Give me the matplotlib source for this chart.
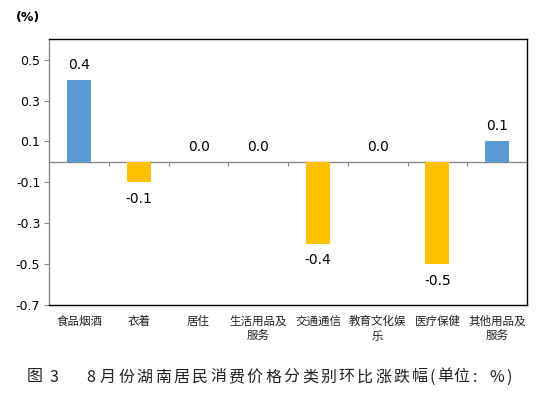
import matplotlib
matplotlib.use("Agg")
import matplotlib.pyplot as plt
import numpy as np

plt.rcParams['font.family'] = ['DejaVu Sans']
plt.rcParams['axes.unicode_minus'] = False

categories = ["食品烟酒", "衣着", "居住", "生活用品及\n服务", "交通通信", "教育文化娱\n乐", "医疗保健", "其他用品及\n服务"]
values = [0.4, -0.1, 0.0, 0.0, -0.4, 0.0, -0.5, 0.1]
yticks = [0.5, 0.3, 0.1, -0.1, -0.3, -0.5, -0.7]
ylim = (-0.7, 0.6)
caption_head = ["图", "3", "8"]
caption_body = "月份湖南居民消费价格分类别环比涨跌幅"
caption_tail = ["(", "单", "位", ":", "%", ")"]

BLUE = "#5B9BD5"
YELLOW = "#FFC000"
GRAY = "#898989"
CJK = ['Noto Sans CJK SC', 'DejaVu Sans']

W, H = 550, 396
fig = plt.figure(figsize=(5.5, 3.96), dpi=100)
ax = fig.add_axes([49.3/W, 1-305/H, (527-49.3)/W, (305-39.3)/H])

x = np.arange(len(categories))
colors = [BLUE if v >= 0 else YELLOW for v in values]
ax.bar(x, values, width=0.4, color=colors, zorder=2)

ax.set_xlim(-0.5, len(categories) - 0.5)
ax.set_ylim(*ylim)
ax.set_yticks(yticks)
ax.set_yticklabels([f"{t:.1f}" for t in yticks], fontsize=9)
ax.tick_params(axis='y', direction='out', length=3.5, width=0.8, color=GRAY, pad=3)

ax.set_xticks(x)
ax.set_xticklabels(categories, fontsize=8.3, family=CJK, linespacing=1.25, color="#222222")
ax.tick_params(axis='x', length=0, pad=7)

for side in ['top', 'right', 'bottom']:
    ax.spines[side].set_color('black')
    ax.spines[side].set_linewidth(1.0)
ax.spines['left'].set_color(GRAY)
ax.spines['left'].set_linewidth(1.0)

# zero axis with category separator ticks
sec = ax.secondary_xaxis(0, transform=ax.transData)
sec.set_xticks(np.arange(len(categories) - 1) + 0.5)
sec.set_xticklabels([])
sec.tick_params(axis='x', direction='out', length=3, width=0.8, color=GRAY)
sec.spines['bottom'].set_color(GRAY)
sec.spines['bottom'].set_linewidth(1.0)

for xi, v in zip(x, values):
    if v >= 0:
        ax.annotate(f"{v:.1f}", (xi, v), xytext=(0, 6), textcoords='offset points',
                    ha='center', va='bottom', fontsize=10)
    else:
        ax.annotate(f"{v:.1f}", (xi, v), xytext=(0, -7), textcoords='offset points',
                    ha='center', va='top', fontsize=10)

fig.text(28/W, 1-17/H, "(%)", ha='center', va='center', fontsize=9, fontweight='bold')

# caption, letter-spaced like the reference
cap_y = 1 - 377/H
cap_kw = dict(ha='center', va='center', fontsize=11.5, family=CJK, color="#222222")
for ch, cx in zip(caption_head, [34.5, 53.5, 91]):
    fig.text(cx/W, cap_y, ch, **cap_kw)
for ch, cx in zip(caption_body, np.linspace(108, 420, len(caption_body))):
    fig.text(cx/W, cap_y, ch, **cap_kw)
for ch, cx in zip(caption_tail, [432.5, 445, 461.5, 475, 497, 509.5]):
    fig.text(cx/W, cap_y, ch, **cap_kw)

fig.savefig("out.png", dpi=100)
